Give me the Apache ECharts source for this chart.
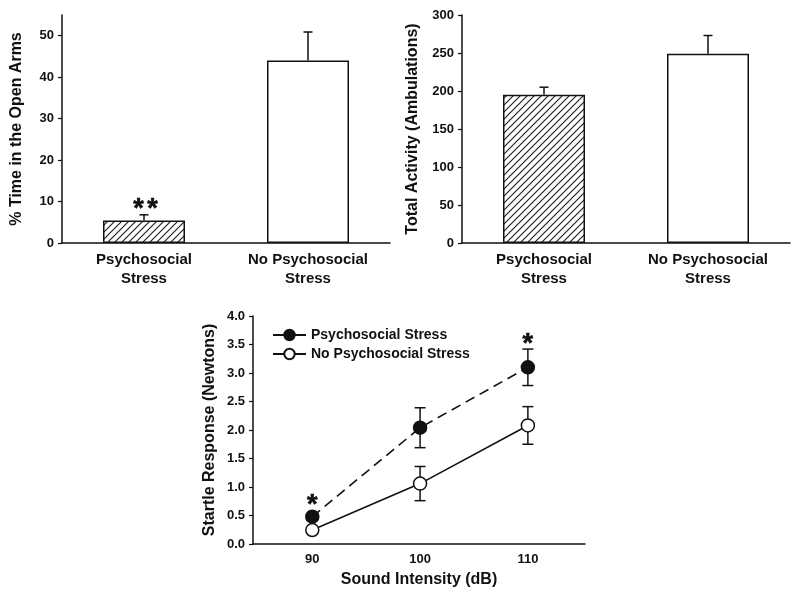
<!DOCTYPE html>
<html>
<head>
<meta charset="utf-8">
<script src="https://cdn.jsdelivr.net/npm/echarts@6/dist/echarts.min.js"></script>
<style>
html,body{margin:0;padding:0;background:#fff;}
#chart{width:800px;height:597px;}
</style>
</head>
<body>
<div id="chart"></div>
<script>
// ---------- data ----------
const groups = ['Psychosocial\nStress', 'No Psychosocial\nStress'];
const openArmsMean = [5.4, 44.0];
const openArmsSEM = [1.4, 6.9];
const openArmsSig = ['**', ''];
const openArmsTicks = [0, 10, 20, 30, 40, 50];

const activityMean = [195, 249];
const activitySEM = [10, 24];
const activitySig = ['', ''];
const activityTicks = [0, 50, 100, 150, 200, 250, 300];

const intensities = [90, 100, 110];
const stressMean = [0.48, 2.04, 3.10];
const stressSEM = [0.04, 0.35, 0.32];
const noStressMean = [0.245, 1.06, 2.08];
const noStressSEM = [0.03, 0.30, 0.33];
const startleSig = ['*', '', '*'];
const startleTicks = [0, 0.5, 1, 1.5, 2, 2.5, 3, 3.5, 4];
const seriesNames = ['Psychosocial Stress', 'No Psychosocial Stress'];

// ---------- styles ----------
const FONT = '"Liberation Sans", Arial, sans-serif';
const INK = '#111';

const hatch = document.createElement('canvas');
hatch.width = 7; hatch.height = 7;
(function () {
  const c = hatch.getContext('2d');
  c.fillStyle = '#fff'; c.fillRect(0, 0, 7, 7);
  c.strokeStyle = '#222'; c.lineWidth = 1.2;
  c.beginPath();
  c.moveTo(0, 7); c.lineTo(7, 0);
  c.moveTo(-1, 1); c.lineTo(1, -1);
  c.moveTo(6, 8); c.lineTo(8, 6);
  c.stroke();
})();

function sigTexts(txt, x, y) {
  const n = txt.length, step = 14;
  const out = [];
  for (let k = 0; k < n; k++) {
    out.push({ type: 'text', style: { text: txt[k], x: x + (k - (n - 1) / 2) * step, y: y, textAlign: 'center', textVerticalAlign: 'middle', font: 'bold 27px ' + FONT, fill: INK, stroke: INK, lineWidth: 0.6 } });
  }
  return out;
}

function barErrRender(means, sems, sigs) {
  return function (params, api) {
    const i = params.dataIndex;
    const p0 = api.coord([i, means[i]]);
    const p1 = api.coord([i, means[i] + sems[i]]);
    const cap = 4.5;
    let children = [
      { type: 'line', shape: { x1: p0[0], y1: p0[1], x2: p1[0], y2: p1[1] }, style: { stroke: INK, lineWidth: 1.5 } },
      { type: 'line', shape: { x1: p1[0] - cap, y1: p1[1], x2: p1[0] + cap, y2: p1[1] }, style: { stroke: INK, lineWidth: 1.5 } }
    ];
    if (sigs[i]) children = children.concat(sigTexts(sigs[i], p1[0] + 1.5, p1[1] - 5));
    return { type: 'group', children: children };
  };
}

function lineErrRender(means, sems, sigs) {
  return function (params, api) {
    const i = params.dataIndex;
    const x = intensities[i];
    const pm = api.coord([x, means[i]]);
    const pt = api.coord([x, means[i] + sems[i]]);
    const pb = api.coord([x, means[i] - sems[i]]);
    const cap = 5.5;
    let children = [
      { type: 'line', shape: { x1: pt[0], y1: pt[1], x2: pb[0], y2: pb[1] }, style: { stroke: INK, lineWidth: 1.5 } },
      { type: 'line', shape: { x1: pt[0] - cap, y1: pt[1], x2: pt[0] + cap, y2: pt[1] }, style: { stroke: INK, lineWidth: 1.5 } },
      { type: 'line', shape: { x1: pb[0] - cap, y1: pb[1], x2: pb[0] + cap, y2: pb[1] }, style: { stroke: INK, lineWidth: 1.5 } }
    ];
    if (sigs && sigs[i]) {
      const top = Math.min(pt[1], pm[1] - 6.5);
      children = children.concat(sigTexts(sigs[i], pm[0], top - 5));
    }
    return { type: 'group', children: children };
  };
}

const axisLine = { show: true, lineStyle: { color: INK, width: 1.5 } };
const tickLbl = { color: INK, fontFamily: FONT, fontWeight: 'bold', fontSize: 13 };
const nameTS = { color: INK, fontFamily: FONT, fontWeight: 'bold', fontSize: 16 };

function catAxis(gi) {
  return {
    type: 'category', gridIndex: gi, data: groups,
    axisLine: axisLine, axisTick: { show: false },
    axisLabel: { color: INK, fontFamily: FONT, fontWeight: 'bold', fontSize: 15, lineHeight: 19, margin: 7, interval: 0 },
    splitLine: { show: false }
  };
}
function valAxis(gi, min, max, ticks, name, gap, fmt) {
  return {
    type: 'value', gridIndex: gi, min: min, max: max,
    name: name, nameLocation: 'middle', nameGap: gap, nameTextStyle: nameTS,
    axisLine: axisLine,
    axisTick: { show: true, length: 4, lineStyle: { color: INK, width: 1.2 }, customValues: ticks },
    axisLabel: Object.assign({ margin: 8, customValues: ticks, formatter: fmt }, tickLbl),
    splitLine: { show: false }
  };
}

const option = {
  backgroundColor: '#fff',
  animation: false,
  grid: [
    { left: 62, top: 15, width: 328, height: 228 },
    { left: 462, top: 15, width: 328, height: 228 },
    { left: 253, top: 316, width: 332, height: 228 }
  ],
  xAxis: [
    catAxis(0),
    catAxis(1),
    {
      type: 'value', gridIndex: 2, min: 84.5, max: 115.3,
      name: 'Sound Intensity (dB)', nameLocation: 'middle', nameGap: 28, nameTextStyle: nameTS,
      axisLine: axisLine, axisTick: { show: false },
      axisLabel: Object.assign({ margin: 9, customValues: intensities }, tickLbl),
      splitLine: { show: false }
    }
  ],
  yAxis: [
    valAxis(0, 0, 55, openArmsTicks, '% Time in the Open Arms', 37, v => String(v)),
    valAxis(1, 0, 300, activityTicks, 'Total Activity (Ambulations)', 41, v => String(v)),
    valAxis(2, 0, 4, startleTicks, 'Startle Response (Newtons)', 35, v => v.toFixed(1))
  ],
  legend: {
    orient: 'vertical', left: 272, top: 328, padding: 0,
    itemWidth: 33, itemHeight: 13, itemGap: 5,
    data: seriesNames,
    lineStyle: { type: 'solid' },
    textStyle: { color: INK, fontFamily: FONT, fontWeight: 'bold', fontSize: 14 }
  },
  series: [
    {
      type: 'bar', xAxisIndex: 0, yAxisIndex: 0, barWidth: '50%',
      data: openArmsMean.map((v, i) => ({ value: v, itemStyle: { color: i === 0 ? { image: hatch, repeat: 'repeat' } : '#fff', borderColor: INK, borderWidth: 1.5 } })),
      z: 2
    },
    {
      type: 'custom', xAxisIndex: 0, yAxisIndex: 0, z: 3,
      renderItem: barErrRender(openArmsMean, openArmsSEM, openArmsSig),
      data: openArmsMean.map((v, i) => [i, v])
    },
    {
      type: 'bar', xAxisIndex: 1, yAxisIndex: 1, barWidth: '50%',
      data: activityMean.map((v, i) => ({ value: v, itemStyle: { color: i === 0 ? { image: hatch, repeat: 'repeat' } : '#fff', borderColor: INK, borderWidth: 1.5 } })),
      z: 2
    },
    {
      type: 'custom', xAxisIndex: 1, yAxisIndex: 1, z: 3,
      renderItem: barErrRender(activityMean, activitySEM, activitySig),
      data: activityMean.map((v, i) => [i, v])
    },
    {
      type: 'custom', xAxisIndex: 2, yAxisIndex: 2, z: 1,
      renderItem: lineErrRender(stressMean, stressSEM, startleSig),
      data: intensities.map((x, i) => [x, stressMean[i]])
    },
    {
      type: 'custom', xAxisIndex: 2, yAxisIndex: 2, z: 1,
      renderItem: lineErrRender(noStressMean, noStressSEM, null),
      data: intensities.map((x, i) => [x, noStressMean[i]])
    },
    {
      name: seriesNames[0], type: 'line', xAxisIndex: 2, yAxisIndex: 2, z: 5,
      data: intensities.map((x, i) => [x, stressMean[i]]),
      symbol: 'circle', symbolSize: 13,
      lineStyle: { color: INK, width: 1.6, type: [10, 6] },
      itemStyle: { color: INK, borderColor: INK, borderWidth: 1.5 }
    },
    {
      name: seriesNames[1], type: 'line', xAxisIndex: 2, yAxisIndex: 2, z: 5,
      data: intensities.map((x, i) => [x, noStressMean[i]]),
      symbol: 'circle', symbolSize: 13,
      lineStyle: { color: INK, width: 1.6, type: 'solid' },
      itemStyle: { color: '#fff', borderColor: INK, borderWidth: 1.5 }
    }
  ]
};

const chart = echarts.init(document.getElementById('chart'), null, { renderer: 'canvas' });
chart.setOption(option);
</script>
</body>
</html>
